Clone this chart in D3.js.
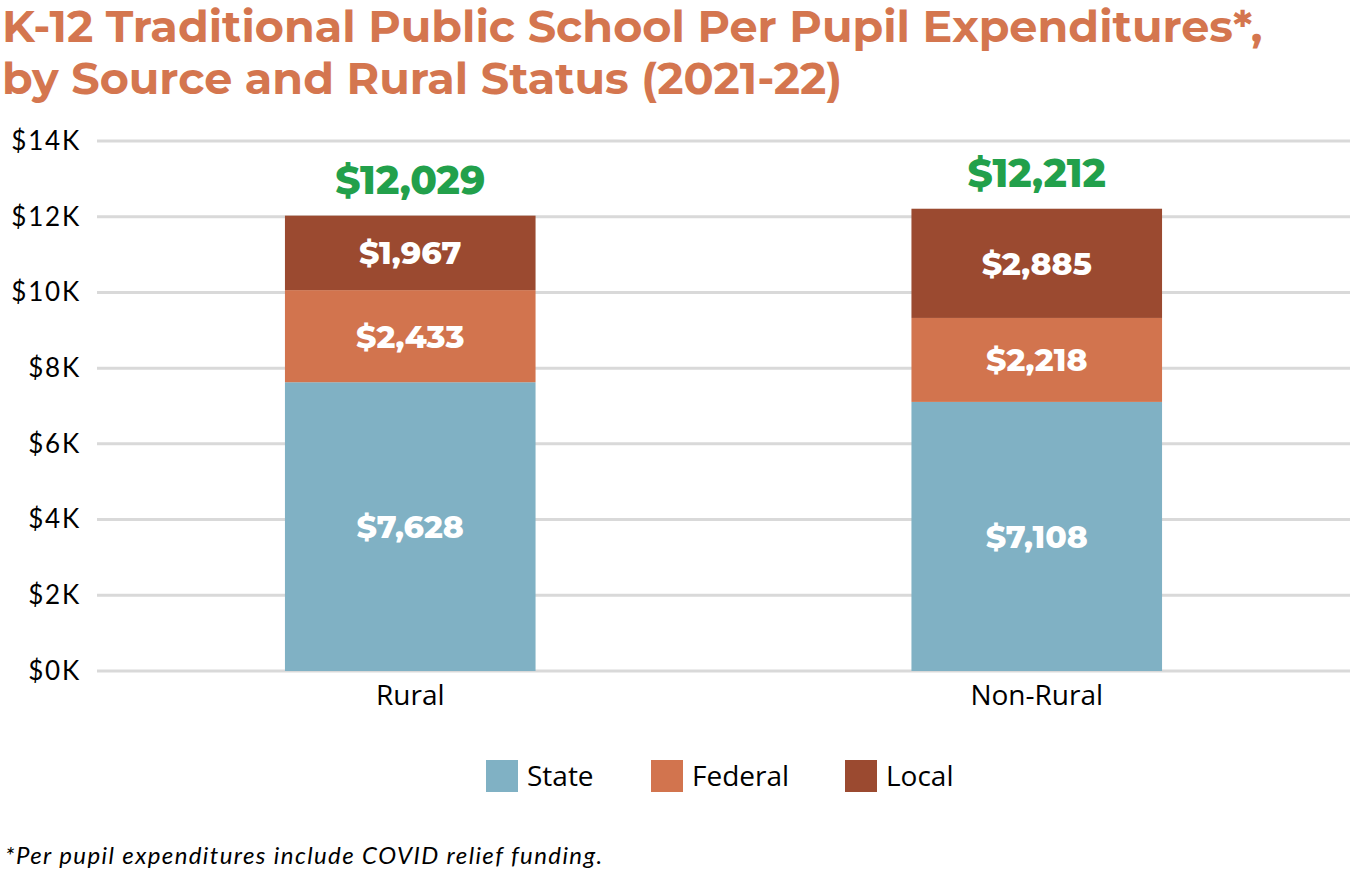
<!DOCTYPE html>
<html><head><meta charset="utf-8">
<script src="https://cdn.jsdelivr.net/npm/d3@7"></script>
<style>body{margin:0;background:#fff}svg{display:block}</style>
</head><body><svg id="c" width="1357" height="876"></svg>
<script>
const categories = ["Rural", "Non-Rural"];
const series = ["State", "Federal", "Local"];
const stateValues = [7628, 7108];
const federalValues = [2433, 2218];
const localValues = [1967, 2885];
const totalLabels = ["$12,029", "$12,212"];
const yTicks = [0, 2000, 4000, 6000, 8000, 10000, 12000, 14000];
const tickLabels = ["$0K", "$2K", "$4K", "$6K", "$8K", "$10K", "$12K", "$14K"];
const colors = ["#80B1C4", "#D2744E", "#9B4A30"];

(function () {
const svg = d3.select("#c");
const pL = 97, pR = 1350, pT = 141, pB = 671;
const x = d3.scaleBand().domain(categories).range([pL, pR]).paddingInner(0.6).paddingOuter(0.3);
const y = d3.scaleLinear().domain([0, 14000]).range([pB, pT]);

// title
const title = svg.append("text").attr("fill", "#D4764F").attr("font-family", "Montserrat, 'Open Sans', sans-serif")
  .attr("font-weight", 700).attr("font-size", 44.5);
title.append("tspan").attr("x", 2).attr("y", 42).text("K-12 Traditional Public School Per Pupil Expenditures*,");
title.append("tspan").attr("x", 2).attr("y", 94).text("by Source and Rural Status (2021-22)");

// grid
svg.append("g").selectAll("line").data(yTicks).join("line")
  .attr("x1", pL).attr("x2", pR).attr("y1", d => y(d)).attr("y2", d => y(d))
  .attr("stroke", "#D9D9D9").attr("stroke-width", 3);

const yAxis = d3.axisLeft(y).tickValues(yTicks).tickFormat((d, i) => tickLabels[i]).tickSize(0).tickPadding(16);
const ga = svg.append("g").attr("transform", `translate(${pL},0)`).call(yAxis);
ga.select(".domain").remove();
ga.selectAll("text").attr("font-family", "Lato, sans-serif").attr("font-size", 26).attr("letter-spacing", 1.8).attr("fill", "#000");

// stack
const rows = categories.map((c, i) => ({cat: c, State: stateValues[i], Federal: federalValues[i], Local: localValues[i]}));
const stack = d3.stack().keys(series)(rows);
const fmt = d3.format("$,");
stack.forEach((s, si) => {
  const g = svg.append("g");
  g.selectAll("rect").data(s).join("rect")
    .attr("x", d => x(d.data.cat)).attr("width", x.bandwidth())
    .attr("y", d => y(d[1])).attr("height", d => y(d[0]) - y(d[1]))
    .attr("fill", colors[si]);
  g.selectAll("text").data(s).join("text")
    .attr("x", d => x(d.data.cat) + x.bandwidth() / 2)
    .attr("y", d => (y(d[0]) + y(d[1])) / 2)
    .attr("dy", "0.36em").attr("text-anchor", "middle")
    .attr("font-family", "Montserrat, 'Open Sans', sans-serif").attr("font-weight", 800).attr("font-size", 31.5)
    .attr("fill", "#fff").text(d => fmt(d.data[series[si]]));
});

// totals
const last = stack[stack.length - 1];
svg.append("g").selectAll("text").data(last).join("text")
  .attr("x", d => x(d.data.cat) + x.bandwidth() / 2).attr("y", (d) => y(d[1]) - 22)
  .attr("text-anchor", "middle").attr("font-family", "Montserrat, 'Open Sans', sans-serif")
  .attr("font-weight", 800).attr("font-size", 39).attr("fill", "#22A04B")
  .text((d, i) => totalLabels[i]);

// x axis labels
const xAxis = d3.axisBottom(x).tickSize(0).tickPadding(14);
const gx = svg.append("g").attr("transform", `translate(0,${pB})`).call(xAxis);
gx.select(".domain").remove();
gx.selectAll("text").attr("font-family", "'Open Sans', sans-serif").attr("font-size", 28).attr("fill", "#000");

// legend
const legX = [486, 651, 845];
const lg = svg.append("g");
series.forEach((s, i) => {
  lg.append("rect").attr("x", legX[i]).attr("y", 760).attr("width", 32).attr("height", 32).attr("fill", colors[i]);
  lg.append("text").attr("x", legX[i] + 41).attr("y", 776).attr("dy", "0.36em")
    .attr("font-family", "'Open Sans', sans-serif").attr("font-size", 28).attr("fill", "#000").text(s);
});

// footnote
svg.append("text").attr("x", 5).attr("y", 864).attr("font-family", "Lato, sans-serif").attr("font-style", "italic")
  .attr("font-size", 24).attr("letter-spacing", 1.4).attr("fill", "#000").text("*Per pupil expenditures include COVID relief funding.");
})();
</script></body></html>
